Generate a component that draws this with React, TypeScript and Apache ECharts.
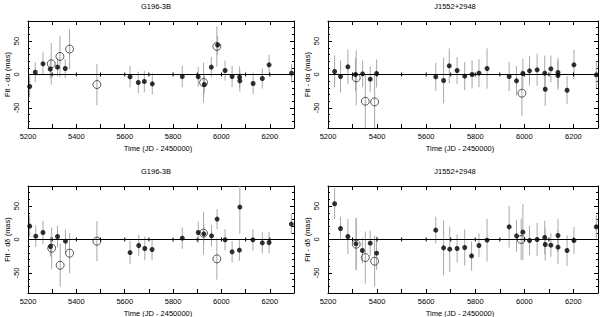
import React, { useEffect, useRef } from "react";
import * as echarts from "echarts";

// ---- axis values ----
const xMin = 5200;
const xMax = 6300;
const xStep = 100;
const xLabelValues = [5200, 5400, 5600, 5800, 6000, 6200];
const zeroTickValues = [5300, 5400, 5500, 5600, 5700, 5800, 5900, 6000, 6100, 6200];
const yMin = -80;
const yMax = 80;
const yStep = 10;
const yLabelValues = [-50, 0, 50];

// ---- G196-3B, d alpha ----
const tlDate = [5207, 5230, 5262, 5292, 5296, 5322, 5332, 5354, 5372, 5485, 5622, 5656, 5681, 5714, 5838, 5904, 5926, 5929, 5958, 5981, 5984, 6015, 6044, 6075, 6076, 6131, 6169, 6197, 6290];
const tlVal = [-18, 3.5, 16, 8, 16, 11, 27, 9, 38, -15, -3.5, -12, -10.5, -14, -3, -3.5, -12, -15, 11, 42, 44, 6, -3, -4, -9.5, -13.5, -6, 14.5, 2];
const tlErr = [16, 15, 17, 14, 31, 14, 31, 14, 30, 31, 16, 16, 16, 16, 16, 15, 30, 14, 15, 30, 14, 15, 16, 16, 16, 16, 15, 15, 14];
const tlOpen = [0, 0, 0, 0, 1, 0, 1, 0, 1, 1, 0, 0, 0, 0, 0, 0, 1, 0, 0, 1, 0, 0, 0, 0, 0, 0, 0, 0, 0];

// ---- J1552+2948, d alpha ----
const trDate = [5227, 5251, 5281, 5312, 5315, 5341, 5352, 5372, 5390, 5398, 5639, 5671, 5694, 5726, 5757, 5787, 5815, 5848, 5938, 5968, 5994, 5990, 6021, 6052, 6083, 6085, 6108, 6137, 6137, 6174, 6202, 6293];
const trVal = [4.5, -3, 11.5, 0, -5, 1, -40, -7, -41, 1.5, -3.5, -9, 13, 6, -2.5, 0, 2, 9, -3, -9.5, 1.5, -28, 5.5, 7, 2, -22, 8.5, 3, -1.5, -23.5, 14.5, -0.5];
const trErr = [24, 24, 26, 25, 41, 20, 40, 19, 40, 21, 21, 34, 26, 20, 21, 21, 21, 30, 22, 22, 22, 34, 22, 24, 26, 25, 20, 22, 22, 21, 22, 20];
const trOpen = [0, 0, 0, 0, 1, 0, 1, 0, 1, 0, 0, 0, 0, 0, 0, 0, 0, 0, 0, 0, 0, 1, 0, 0, 0, 0, 0, 0, 0, 0, 0, 0];

// ---- G196-3B, d delta ----
const blDate = [5207, 5232, 5262, 5293, 5298, 5322, 5333, 5355, 5372, 5485, 5622, 5658, 5683, 5713, 5838, 5904, 5926, 5927, 5959, 5982, 5981, 6015, 6044, 6074, 6076, 6130, 6169, 6197, 6289];
const blVal = [20, 5, 10.5, -10.5, -13, 4.5, -38.5, -2.5, -20.5, -2.5, -19.5, -9, -13.5, -15, 2, 10.5, 9.5, 8.5, 5.5, 30.5, -29, -0.5, -18.5, -16, 48.5, -0.5, -5, -4.5, 23];
const blErr = [16, 16, 17.5, 15, 31, 16, 32, 17.5, 30, 30, 17.5, 16, 17.5, 16, 16, 16, 32, 15, 16, 15, 31, 16, 16, 16, 40, 16, 16, 16, 15];
const blOpen = [0, 0, 0, 0, 1, 0, 1, 0, 1, 1, 0, 0, 0, 0, 0, 0, 1, 0, 0, 0, 1, 0, 0, 0, 0, 0, 0, 0, 0];

// ---- J1552+2948, d delta ----
const brDate = [5227, 5251, 5281, 5314, 5315, 5340, 5352, 5372, 5390, 5398, 5639, 5671, 5696, 5726, 5757, 5785, 5815, 5848, 5938, 5968, 5987, 5994, 6021, 6052, 6083, 6085, 6108, 6137, 6137, 6174, 6202, 6293];
const brVal = [53.5, 16.5, 4.5, -6.5, -7, -16.5, -27, -5.5, -32.5, -20.5, 14, -12.5, -14.5, -13.5, -12, -24.5, -9, -1, 19, 5.5, 0, 11, -1.5, 0, 3, -7.5, -8.5, 6, -11.5, -16.5, -1.5, 19];
const brErr = [23, 17.5, 26, 39, 39, 19, 39, 19, 38, 25, 20, 41, 34, 21, 27, 22, 17.5, 32, 31, 24, 31, 42, 22, 25, 25, 24, 17.5, 25, 25, 23, 20, 17.5];
const brOpen = [0, 0, 0, 0, 1, 0, 1, 0, 1, 0, 0, 0, 0, 0, 0, 0, 0, 0, 0, 0, 1, 0, 0, 0, 0, 0, 0, 0, 0, 0, 0, 0];

const xName = "Time (JD - 2450000)";
const FONT = "Liberation Sans";

type Panel = {
  title: string;
  yName: string;
  date: number[];
  val: number[];
  err: number[];
  open: number[];
  left: number;
  top: number;
  width: number;
  height: number;
  titleX: number;
};

const panels: Panel[] = [
  { title: "G196-3B", yName: "Fit - dα (mas)", date: tlDate, val: tlVal, err: tlErr, open: tlOpen, left: 28, top: 21, width: 266, height: 107, titleX: 156 },
  { title: "J1552+2948", yName: "Fit - dα (mas)", date: trDate, val: trVal, err: trErr, open: trOpen, left: 328, top: 21, width: 270, height: 107, titleX: 455 },
  { title: "G196-3B", yName: "Fit - dδ (mas)", date: blDate, val: blVal, err: blErr, open: blOpen, left: 28, top: 186, width: 266, height: 107, titleX: 156 },
  { title: "J1552+2948", yName: "Fit - dδ (mas)", date: brDate, val: brVal, err: brErr, open: brOpen, left: 328, top: 186, width: 270, height: 107, titleX: 455 },
];

const plain = (v: number) => String(v);

function buildOption() {
  const grid: any[] = [];
  const xAxis: any[] = [];
  const yAxis: any[] = [];
  const series: any[] = [];
  const graphic: any[] = [];
  const black = { color: "#000", width: 1 };

  panels.forEach((p, g) => {
    grid.push({ left: p.left, top: p.top, width: p.width, height: p.height, containLabel: false, outerBoundsMode: "none" });

    const xi = xAxis.length;
    const xBase = { gridIndex: g, type: "value", min: xMin, max: xMax, interval: xStep, splitLine: { show: false } };
    xAxis.push({
      ...xBase,
      position: "bottom",
      axisLine: { show: true, onZero: false, lineStyle: black },
      axisTick: { inside: true, length: 4, lineStyle: black },
      axisLabel: { customValues: xLabelValues, formatter: plain, margin: 4, fontSize: 7.5, fontFamily: FONT, color: "#000" },
      name: xName,
      nameLocation: "middle",
      nameGap: 16,
      nameTextStyle: { fontSize: 7.5, fontFamily: FONT, color: "#000", padding: [0, 6, 0, 0] },
    });
    xAxis.push({
      ...xBase,
      position: "top",
      axisLine: { show: true, onZero: false, lineStyle: black },
      axisTick: { inside: true, length: 4, lineStyle: black },
      axisLabel: { show: false },
    });

    const yi = yAxis.length;
    const yBase = { gridIndex: g, type: "value", min: yMin, max: yMax, splitLine: { show: false } };
    yAxis.push({
      ...yBase,
      interval: yStep,
      position: "left",
      axisLine: { show: true, onZero: false, lineStyle: black },
      axisTick: { inside: true, length: 2, lineStyle: black },
      axisLabel: { customValues: yLabelValues, formatter: plain, rotate: 90, margin: 8, fontSize: 7.5, fontFamily: FONT, color: "#000" },
      name: p.yName,
      nameLocation: "middle",
      nameRotate: 90,
      nameGap: 17,
      nameTextStyle: { fontSize: 7.5, fontFamily: FONT, color: "#000" },
    });
    yAxis.push({
      ...yBase,
      position: "left",
      axisLine: { show: false, onZero: false },
      axisTick: { inside: true, length: 4, lineStyle: black, customValues: yLabelValues },
      axisLabel: { show: false },
    });
    yAxis.push({
      ...yBase,
      interval: yStep,
      position: "right",
      axisLine: { show: true, onZero: false, lineStyle: black },
      axisTick: { inside: true, length: 2, lineStyle: black },
      axisLabel: { show: false },
    });
    yAxis.push({
      ...yBase,
      position: "right",
      axisLine: { show: false, onZero: false },
      axisTick: { inside: true, length: 4, lineStyle: black, customValues: yLabelValues },
      axisLabel: { show: false },
    });

    // error bars + zero line
    series.push({
      type: "custom",
      xAxisIndex: xi,
      yAxisIndex: yi,
      clip: true,
      silent: true,
      z: 1,
      encode: { x: 0, y: [1, 2] },
      data: p.date.map((d, i) => [d, p.val[i] - p.err[i], p.val[i] + p.err[i]]),
      renderItem: (params: any, api: any) => {
        const a = api.coord([api.value(0), api.value(1)]);
        const b = api.coord([api.value(0), api.value(2)]);
        return {
          type: "line",
          shape: { x1: a[0], y1: a[1], x2: b[0], y2: b[1] },
          style: { stroke: "#a8a8a8", lineWidth: 1 },
        };
      },
      markLine: {
        silent: true,
        symbol: ["none", "none"],
        label: { show: false },
        lineStyle: { color: "#000", width: 1, type: "solid" },
        data: [{ yAxis: 0 }],
      },
    });

    // ticks on the zero line
    series.push({
      type: "custom",
      xAxisIndex: xi,
      yAxisIndex: yi,
      silent: true,
      z: 2,
      encode: { x: 0, y: 1 },
      data: zeroTickValues.map((v) => [v, 0]),
      renderItem: (params: any, api: any) => {
        const c = api.coord([api.value(0), api.value(1)]);
        return {
          type: "line",
          shape: { x1: c[0], y1: c[1] - 2, x2: c[0], y2: c[1] + 2 },
          style: { stroke: "#000", lineWidth: 1 },
        };
      },
    });

    const filled: number[][] = [];
    const open: number[][] = [];
    p.date.forEach((d, i) => {
      (p.open[i] ? open : filled).push([d, p.val[i]]);
    });

    series.push({
      type: "scatter",
      xAxisIndex: xi,
      yAxisIndex: yi,
      z: 3,
      symbol: "circle",
      symbolSize: 5,
      itemStyle: { color: "#000" },
      data: filled,
    });
    series.push({
      type: "scatter",
      xAxisIndex: xi,
      yAxisIndex: yi,
      z: 4,
      symbol: "circle",
      symbolSize: 8,
      itemStyle: { color: "rgba(0,0,0,0)", borderColor: "#000", borderWidth: 0.8 },
      data: open,
    });

    graphic.push({
      type: "text",
      x: p.titleX,
      y: p.top - 15,
      style: {
        text: p.title,
        fill: "#000",
        fontSize: 7.5,
        fontFamily: FONT,
        align: "center",
        verticalAlign: "middle",
        textAlign: "center",
        textVerticalAlign: "middle",
      },
    });
  });

  return {
    animation: false,
    backgroundColor: "#fff",
    grid,
    xAxis,
    yAxis,
    series,
    graphic,
  };
}

export default function App() {
  const ref = useRef<HTMLDivElement>(null);
  useEffect(() => {
    if (!ref.current) return;
    const chart = echarts.init(ref.current, null, { renderer: "svg" });
    chart.setOption(buildOption() as any);
    return () => chart.dispose();
  }, []);
  return (
    <div
      ref={ref}
      style={{ position: "absolute", left: 0, top: 0, width: 600, height: 317 }}
    />
  );
}
